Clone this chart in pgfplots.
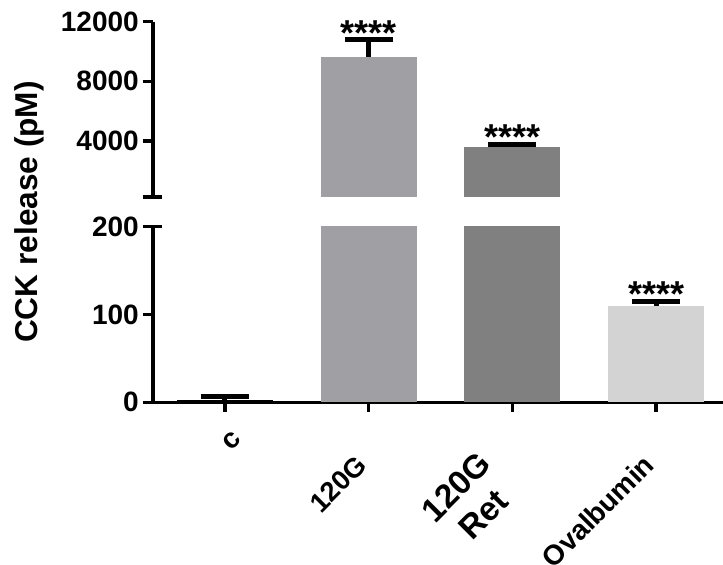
\documentclass[border=0pt]{standalone}
\usepackage{pgfplots}
\usepackage{pgfplotstable}
\pgfplotsset{compat=1.18}
\usepackage{fontspec}
\setmainfont{Liberation Sans}
\definecolor{barA}{RGB}{160,160,164}
\definecolor{barB}{RGB}{128,128,128}
\definecolor{barC}{RGB}{211,211,211}

\pgfplotstableread{
x y err
0 3 3.5
}\tabC
\pgfplotstableread{
x y err
1 9650 1120
}\tabG
\pgfplotstableread{
x y err
2 3620 150
}\tabR
\pgfplotstableread{
x y err
3 110 4.8
}\tabO

\pgfplotsset{
  brk/.style={
    scale only axis, width=427.5pt,
    xmin=-0.5, xmax=3.465,
    clip mode=individual,
    axis line style={line width=2.5pt},
    x axis line style={-}, y axis line style={-},
    every tick/.style={black, line width=2.5pt},
    major tick length=7.5pt,
    tick align=outside,
    /pgf/number format/assume math mode=true,
    /pgf/number format/1000 sep={},
    scaled y ticks=false,
    yticklabel style={font=\bfseries\fontsize{21}{21}\selectfont, inner sep=3pt},
  },
  bb/.style={ybar, bar width=0.667, bar shift=0pt, draw=none, fill=#1,
    error bars/.cd, y dir=plus, y explicit, error mark=|,
    error bar style={line width=3.75pt, black},
    error mark options={line width=3.75pt, mark size=18pt, black}},
}
\tikzset{sigstar/.style={font=\bfseries\fontsize{27}{27}\selectfont, anchor=base, yshift=-4pt}}

\begin{document}
\begin{tikzpicture}
\useasboundingbox (-114.75pt,-122pt) rectangle (427.5pt,301.7pt);
% lower segment
\begin{axis}[axis x line=bottom, axis y line=left, brk,
  height=131.7pt, ymin=0, ymax=200,
  at={(0pt,0pt)}, anchor=south west,
  ytick={0,100,200},
  xtick={0,1,2,3},
  xticklabels={{\makebox[0pt][l]{\hspace*{12.6pt}\raisebox{4.6pt}{\fontsize{21}{21}\selectfont c}}},
               120G,
               {\raisebox{-18.5pt}{\fontsize{25}{25}\selectfont\begin{tabular}[b]{@{}c@{}}120G\\[4.2pt]Ret\end{tabular}}\hspace*{10pt}},
               {\fontsize{21}{21}\selectfont Ovalbumin}},
  xticklabel style={font=\bfseries\fontsize{20.5}{20.5}\selectfont,
    yshift=-41pt, rotate=45, anchor=base east, inner sep=0pt},
]
\addplot[bb=black] table[x=x, y=y, y error=err] {\tabC};
\addplot[bb=barA] table[x=x, y=y, y error=err] {\tabG};
\addplot[bb=barB] table[x=x, y=y, y error=err] {\tabR};
\addplot[bb=barC] table[x=x, y=y, y error=err] {\tabO};
\node[sigstar] at (axis cs:3,114.8) {****};
\draw[line width=2.5pt] ([xshift=-1pt]rel axis cs:0,1) -- ([xshift=6.75pt]rel axis cs:0,1);
\end{axis}
% upper segment
\begin{axis}[axis x line=none, axis y line=left, brk,
  height=131.5pt, ymin=250, ymax=12000,
  at={(0pt,154pt)}, anchor=south west,
  xtick=\empty,
  ytick={4000,8000,12000},
]
\addplot[bb=barA] table[x=x, y=y, y error=err] {\tabG};
\addplot[bb=barB] table[x=x, y=y, y error=err] {\tabR};
\node[sigstar] at (axis cs:1,10770) {****};
\node[sigstar] at (axis cs:2,3770) {****};
\draw[line width=2.5pt] ([xshift=-7.5pt]rel axis cs:0,0) -- ([xshift=6.75pt]rel axis cs:0,0);
\end{axis}
\node[rotate=90, font=\bfseries\fontsize{23.7}{24}\selectfont] at (-93pt,142.7pt) {CCK release (pM)};
\end{tikzpicture}
\end{document}
